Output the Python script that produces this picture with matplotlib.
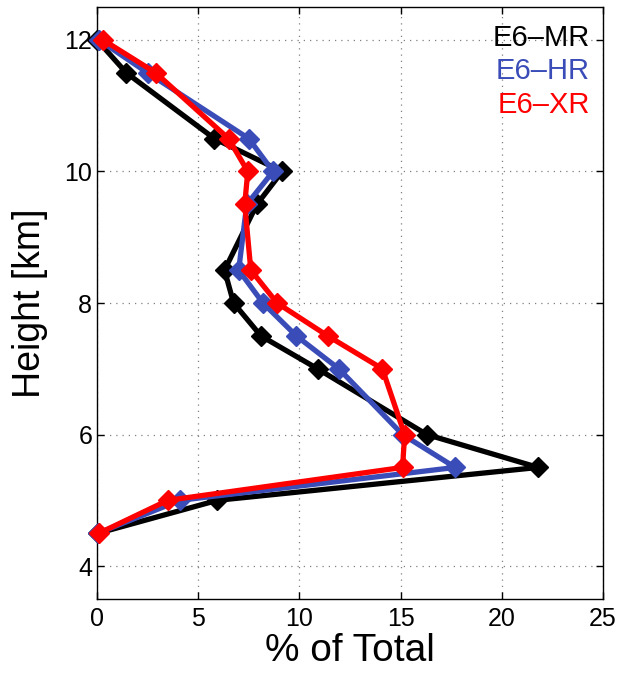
import matplotlib
matplotlib.use("Agg")
import matplotlib.pyplot as plt

plt.rcParams["font.family"] = ["Liberation Sans", "DejaVu Sans"]

heights = [12, 11.5, 10.5, 10, 9.5, 8.5, 8, 7.5, 7, 6, 5.5, 5, 4.5]
mr = [0.0, 1.45, 5.8, 9.15, 7.9, 6.3, 6.75, 8.1, 10.9, 16.3, 21.8, 5.95, 0.05]
hr = [0.1, 2.5, 7.5, 8.7, 7.4, 7.0, 8.2, 9.85, 11.95, 15.1, 17.7, 4.1, 0.05]
xr = [0.3, 2.9, 6.5, 7.45, 7.3, 7.6, 8.9, 11.4, 14.1, 15.2, 15.1, 3.5, 0.1]

series = [("E6\u2013MR", mr, "black"), ("E6\u2013HR", hr, "#3a4cb8"), ("E6\u2013XR", xr, "red")]

fig = plt.figure(figsize=(6.32, 6.73), dpi=100)
ax = fig.add_axes([0.1535, 0.110, 0.8005, 0.8795])

for i, (name, vals, col) in enumerate(series):
    ax.plot(vals, heights, "-", color=col, lw=3.8, marker="D", ms=10,
            mec=col, mfc=col, zorder=3 + i, clip_on=False)

ax.set_xlim(0, 25)
ax.set_ylim(3.5, 12.5)
ax.set_xticks([0, 5, 10, 15, 20, 25])
ax.set_yticks([4, 6, 8, 10, 12])
ax.grid(True, linestyle=(0, (1, 4)), color="gray", lw=0.9)
ax.tick_params(direction="in", top=True, right=True, labelsize=18, length=5, width=1)
ax.tick_params(axis="x", pad=6)
for s in ax.spines.values():
    s.set_linewidth(1.0)
ax.set_xlabel("% of Total", fontsize=28, labelpad=1)
ax.set_ylabel("Height [km]", fontsize=27, labelpad=12)

for i, (name, vals, col) in enumerate(series):
    ax.text(0.974, 0.948 - i * 0.0566, name, transform=ax.transAxes, ha="right",
            va="center", color=col, fontsize=21, zorder=10)

fig.savefig("out.png", dpi=100)
